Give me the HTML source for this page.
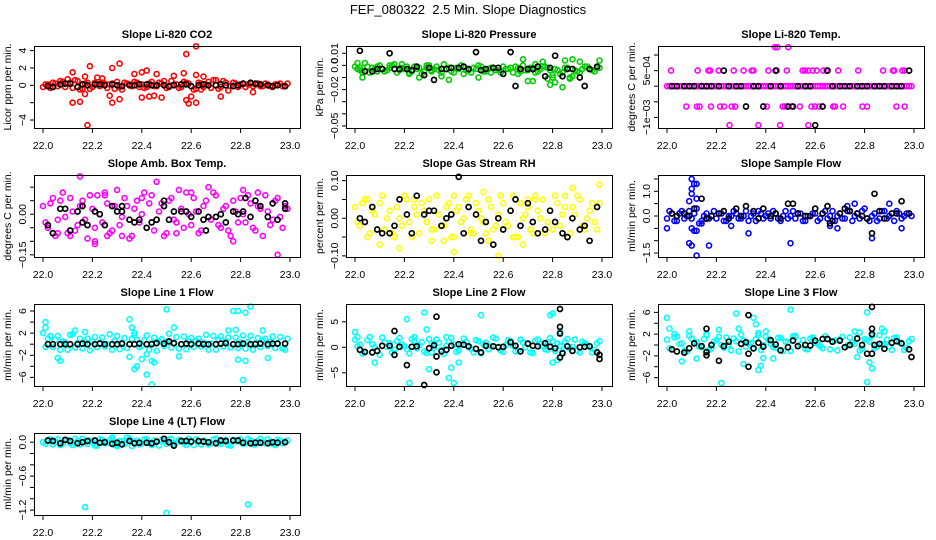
<!DOCTYPE html>
<html><head><meta charset="utf-8">
<style>
html,body{margin:0;padding:0;background:#fff;}
svg{display:block;font-family:"Liberation Sans",Arial,sans-serif;}
</style></head>
<body>
<svg id="chart" width="936" height="540" viewBox="0 0 936 540" xmlns="http://www.w3.org/2000/svg">
<rect x="0" y="0" width="936" height="540" fill="#fff"/>
<text x="468" y="14" font-size="13" text-anchor="middle" xml:space="preserve" style="white-space:pre">FEF_080322  2.5 Min. Slope Diagnostics</text>
</svg>
<script>
// shared x values (hours)
const xsA=[22.00,22.02,22.04,22.06,22.08,22.10,22.12,22.14,22.16,22.18,22.20,22.22,22.24,22.26,22.28,22.30,22.32,22.34,22.36,22.38,22.40,22.42,22.44,22.46,22.48,22.50,22.52,22.54,22.56,22.58,22.60,22.62,22.64,22.66,22.68,22.70,22.72,22.74,22.76,22.78,22.80,22.82,22.84,22.86,22.88,22.90,22.92,22.94,22.96,22.98];
const xsB=[22.01,22.03,22.05,22.07,22.09,22.11,22.13,22.15,22.17,22.19,22.21,22.23,22.25,22.27,22.29,22.31,22.33,22.35,22.37,22.39,22.41,22.43,22.45,22.47,22.49,22.51,22.53,22.55,22.57,22.59,22.61,22.63,22.65,22.67,22.69,22.71,22.73,22.75,22.77,22.79,22.81,22.83,22.85,22.87,22.89,22.91,22.93,22.95,22.97,22.99];
const xBlack=[22.02,22.04,22.07,22.09,22.11,22.14,22.16,22.18,22.21,22.23,22.25,22.28,22.30,22.32,22.35,22.37,22.39,22.42,22.44,22.46,22.49,22.51,22.53,22.56,22.58,22.60,22.63,22.65,22.67,22.70,22.72,22.74,22.77,22.79,22.81,22.84,22.86,22.88,22.91,22.93,22.95,22.98];
const xTicks=[22.0,22.2,22.4,22.6,22.8,23.0];
const xTickLabels=["22.0","22.2","22.4","22.6","22.8","23.0"];

// Panel 1: CO2
const co2A=[-.2,.1,.3,-.1,.4,.2,-.3,.5,-.4,.3,-.2,.1,.3,-.3,.2,.4,-.5,.2,-.1,.3,.1,-.2,.4,-.1,.2,-.3,.5,.1,-.2,.3,-.1,-.4,.2,.1,-.3,.6,-.2,.3,-.1,.2,.1,-.2,.2,.1,-.1,.2,-.1,.1,.2,-.1];
const co2B=[.1,-.3,.2,.5,-.2,.3,.6,-.5,.2,-.4,.3,-.1,.2,.1,-.4,-.2,.3,.1,.4,-.2,-.3,.2,-.1,.3,.5,-.2,.1,-.3,.4,.2,-.5,.3,-.2,.4,.6,-.4,.5,-.6,.3,-.2,.2,.1,-.1,.2,-.1,.1,-.2,.1,-.1,.2];
const co2OutX=[22.12,22.12,22.15,22.18,22.19,22.17,22.17,22.24,22.27,22.28,22.28,22.31,22.31,22.37,22.40,22.42,22.40,22.43,22.45,22.46,22.48,22.53,22.57,22.58,22.58,22.59,22.60,22.62,22.62,22.62,22.65,22.72,22.85,22.64,22.22,22.10];
const co2OutY=[1.5,-2,-1.9,-4.6,2.2,1,-1,.8,-1.2,2,-2,2.5,-1.6,1.3,1.5,1.7,-1.4,-1.3,-1.2,1.3,-1.4,1.1,1.4,3.6,-1.7,-2.1,-1.3,-2,4.5,1.2,1,-1.3,-.8,-.5,.9,.7];
const co2Black=[-0.1,-0.2,0.1,0.2,0.2,-0.2,0.1,0,0.1,0.1,0,0.1,0,-0.1,0,0,0.1,0.1,0,0,0,-0.1,0,0.1,0.1,-0.1,0,0.1,0,0,0.1,0,-0.1,0,0.2,0.3,0.2,0.1,0,-0.1,0,-0.1];
const co2Ticks=[-4,-2,0,2,4];
const co2TickLabels=["-4","","0","2","4"];

// Panel 2: Pressure (units of 0.001 kPa)
const presA=[-1,-4,2,-6,-3,0,-5,-2,1,-4,-3,-6,-1,-2,-5,0,-3,-4,1,-2,-6,-3,-1,-4,-2,0,-5,-3,-2,-4,-1,-3,-6,-2,0,-4,-3,-5,-1,-2,-8,-4,-6,-2,-9,-5,-3,-1,-4,-2];
const presB=[-3,-6,-1,-2,-5,-3,-4,0,-6,-2,-1,-5,-3,-7,-2,-4,-1,-6,-3,-5,-2,0,-4,-6,-3,-1,-5,-2,-4,-6,-3,-2,-1,-5,-4,-2,-6,-3,-1,-4,-3,-7,-2,-10,-4,-6,-1,-3,-5,-2];
const presOutX=[22.01,22.03,22.09,22.19,22.22,22.26,22.29,22.31,22.33,22.35,22.38,22.44,22.50,22.55,22.66,22.67,22.68,22.72,22.73,22.76,22.78,22.79,22.80,22.81,22.84,22.85,22.87,22.88,22.91,22.99,22.99,22.02,22.14,22.70];
const presOutY=[2,-10,-1,1,-7,-10,0,-5,-53,-9,-12,-7,-10,-6,-7,-52,5,-13,1,3,-11,-16,-10,-14,-18,4,-11,5,3,4,-53,-2,0,-13];
const presBlack=[12,-5,-5,-3,-3,10,-3,-3,-3,-4,-1,-8,-2,-12,-3,-3,-2,-2,-1,-3,11,-4,-3,-2,-2,-7,11,-17,-3,-3,-3,-1,-9,-2,8,-9,-3,-3,-10,-17,-3,-1];
const presTicks=[10,0,-10,-20,-30,-40,-50];
const presTickLabels=["0.01","0.0","","-0.02","","","-0.05"];

// Panel 3: Li-820 Temp (units of 1e-4 C)
const tempA=[0,0,0,0,0,0,0,0,0,0,0,0,0,0,0,0,0,0,0,0,0,0,0,0,0,0,0,0,0,0,0,0,0,0,0,0,0,0,0,0,0,0,0,0,0,0,0,0,0,0];
const tempOutX=[22.016,22.124,22.168,22.175,22.209,22.27,22.31,22.343,22.35,22.41,22.444,22.485,22.549,22.559,22.572,22.59,22.606,22.633,22.646,22.693,22.774,22.875,22.915,22.92,22.953,22.962,22.078,22.121,22.132,22.178,22.215,22.231,22.262,22.276,22.404,22.468,22.477,22.504,22.538,22.585,22.599,22.616,22.673,22.68,22.713,22.791,22.81,22.929,22.962,22.437,22.447,22.491,22.253,22.37,22.458,22.572];
const tempOutY=[5,5,5,5,5,5,5,5,5,5,5,5,5,5,5,5,5,5,5,5,5,5,5,5,5,5,-6.5,-6.5,-6.5,-6.5,-6.5,-6.5,-6.5,-6.5,-6.5,-6.5,-6.5,-6.5,-6.5,-6.5,-6.5,-6.5,-6.5,-6.5,-6.5,-6.5,-6.5,-6.5,-6.5,12.5,12.5,12.5,-12.5,-12.5,-12.5,-12.5];
const tempBlack=[0,0,0,0,0,0,0,0,0,5,0,0,0,-6.5,0,0,-6.5,0,5,0,-6.5,-6.5,0,0,0,-12.5,-6.5,5,0,0,0,0,0,0,0,0,0,0,0,0,0,5];
const tempTicks=[10,5,0,-5,-10];
const tempTickLabels=["","5e-04","","","-1e-03"];

// Panel 4: Amb. Box Temp (units of 0.01 C)
const ambA=[3,-5,6,-2,8,-7,1,-4,5,-9,2,7,-3,4,-6,9,-1,3,-8,5,0,-5,7,-2,4,-7,6,-3,2,8,-4,1,-6,5,-2,7,-5,3,-8,1,6,-3,4,-6,2,7,-4,5,-1,3];
const ambB=[-3,4,-8,5,-1,6,-6,3,-2,7,-5,0,8,-7,3,-4,6,-9,2,-3,8,4,-6,1,-8,5,-2,9,-5,0,6,-7,3,-1,8,-4,2,-6,5,-3,0,7,-5,3,-8,1,-2,6,-5,2];
const ambOutX=[22.15,22.46,22.95,22.21,22.21,22.67,22.81,22.77,22.54,22.04,22.11,22.26,22.32,22.87,22.60,22.40,22.25,22.06];
const ambOutY=[14,12,-15,-10,-11,10,9,-10,-7,-7,-8,-8,-8,8,8,6,7,-7];
const ambBlack=[-4,-7,2,2,-6,1,-3,-4,1,0,-4,3,1,3,-2,-3,-2,-5,-3,-2,5,-2,1,1,1,-1,1,-2,-1,-1,0,-3,1,0,1,-1,5,3,-1,4,-2,2];
const ambBlackOutX=[22.16,22.32,22.49,22.66,22.98,22.82];
const ambBlackOutY=[3,1,3,-6,4,6];
const ambTicks=[10,5,0,-5,-10,-15];
const ambTickLabels=["","","0.00","","","-0.15"];

// Panel 5: Gas Stream RH (units of 0.01 %)
const rhA=[3,-2,5,-4,1,4,-3,2,-5,0,6,-1,3,-4,2,5,-3,1,-2,4,-5,3,0,6,-4,2,-1,5,-3,1,4,-2,6,-5,0,3,-4,2,5,-1,-3,4,1,-5,3,6,-2,0,4,-3];
const rhB=[-1,4,-5,2,-3,6,0,-4,3,-2,5,-5,1,4,-1,-3,6,-2,3,-5,2,-1,5,-3,4,0,-4,3,-2,6,-1,2,-5,4,1,-3,5,0,-4,2,6,-2,3,-4,1,5,-3,2,-1,4];
const rhOutX=[22.58,22.99,22.70,22.73,22.88,22.05,22.24,22.10,22.40,22.36,22.64,22.68,22.54,22.18,22.31,22.47,22.85,22.52,22.40];
const rhOutY=[-10,9,5,6,8,5,5,-7,-9,-6,-5,-7,-6,-8,-6,-4,6,7,6];
const rhBlack=[0,-1,3,-3,-4,-4,-2,5,1,-4,6,1,2,2,-2,0,1,11,-4,3,1,-6,-1,-7,0,-3,2,5,-2,4,-1,-4,-3,2,-1,-4,-5,0,-3,-2,-6,3];
const rhTicks=[10,5,0,-5,-10];
const rhTickLabels=["0.10","","0.00","","-0.10"];

// Panel 6: Sample Flow
const sfA=[-0.1,0.1,-0.2,0.2,0,-0.1,0.3,-0.2,0.1,0,-0.1,0.1,-0.2,0,0.1,-0.1,0.2,0,-0.2,0.1,0,-0.1,0.1,-0.2,0.2,0,-0.1,0.1,-0.2,0,0.1,-0.1,0.2,0,-0.2,0.1,-0.1,0.2,0,-0.1,0.3,-0.2,0.1,-0.1,0.2,0,-0.2,0.1,0,0.1];
const sfB=[0.2,-0.2,0.1,-0.1,0.2,0.1,-0.3,0,-0.1,0.2,0.1,-0.2,0,0.2,-0.1,0,-0.2,0.1,0.2,-0.1,0.1,0.2,-0.1,0,-0.1,0.2,0.1,-0.2,0,0.1,-0.2,0.1,-0.1,0.2,0,-0.1,0.2,-0.2,0.1,0.2,-0.1,0,-0.2,0.2,-0.1,0.1,0.2,-0.1,0.1,0];
const sfOutX=[22.10,22.11,22.10,22.12,22.10,22.09,22.12,22.10,22.11,22.09,22.10,22.12,22.12,22.17,22.00,22.14,22.33,22.50,22.66,22.69,22.76,22.83,22.90,22.95,22.73,22.26];
const sfOutY=[1.5,1.3,1.1,1.3,0.9,0.6,0.7,-0.5,-0.6,-1.1,-1.2,-0.6,-1.6,-1.2,-0.5,-0.3,-0.7,-1.1,-0.4,-0.5,0.5,-0.9,0.5,-0.5,0.4,-0.4];
const sfBlack=[0.1,0,0.1,0,0.3,0.7,-0.1,0,0.1,0.2,-0.1,0.3,0,0.4,0.2,-0.1,0.3,0,0.1,-0.1,0.5,0.5,0.1,0,0,0.3,0.1,0.4,-0.2,0.1,0.3,0.2,0.1,0,-0.1,0.9,0.2,-0.1,0.1,0.1,0.6,0.1];
const sfBlackOutX=[22.83,22.16,22.66];
const sfBlackOutY=[-0.7,-0.1,-0.3];
const sfTicks=[1.5,1,0.5,0,-0.5,-1,-1.5];
const sfTickLabels=["","1.0","","0.0","","","-1.5"];

// Panel 7: Line 1 Flow
const l1A=[2,1,-0.5,1.5,0.5,-1,1.8,0.2,-0.8,1,0.5,-0.5,1.2,0,-1,1.5,0.3,-0.7,1,0.8,-0.3,1.6,0.2,-1.2,0.9,0.4,-0.6,1.3,0,-0.9,1.1,0.6,-0.4,1.7,0.1,-1,1.4,0.5,-0.6,1.2,0.3,-0.8,1.5,0.2,-0.5,1,0.4,-0.7,1.3,-1];
const l1B=[-0.5,1.5,0.8,-1,0.3,1.7,-0.6,1,0.4,-1.1,1.3,0.2,-0.4,1.8,0.6,-0.9,1.1,0,1.6,-0.5,0.7,-1,1.2,0.5,-0.3,1.9,0.1,-0.8,1.4,0.6,-0.5,1,0.3,-1,1.5,0.8,-0.4,1.2,0,-0.7,1.6,0.4,-1,1.1,0.7,-0.3,1.4,0.2,-0.8,1];
const l1OutX=[22.01,22.01,22.06,22.07,22.13,22.17,22.35,22.36,22.37,22.35,22.37,22.38,22.40,22.42,22.44,22.44,22.45,22.50,22.53,22.55,22.77,22.79,22.82,22.84,22.81,22.82,22.79,22.89,22.91,22.75,22.78,22.42];
const l1OutY=[4,3,-2.5,-3,2.5,2.2,4.5,3,2,-2.3,-4.5,-4,-2.7,-5.5,-7.3,-3,-3.3,6.3,3,-2.2,6,6,5.7,6.8,-6.5,-3,-2.8,2.5,-2.5,2.5,2.6,-1.8];
const l1Black=[0,0,0,0,0,0,0.1,0,0,0.1,0,0,0,0.1,0,0,0.1,0,0,0.2,0.1,0.5,0.2,0,0.1,0,0.1,0,0,0,0.1,0.2,0,0,0.1,0,0,0.1,0,0.1,0.1,0.1];
const l1Ticks=[6,4,2,0,-2,-4,-6];
const l1TickLabels=["6","","2","","-2","","-6"];

// Panel 8: Line 2 Flow
const l2A=[1.5,0.5,-1,2,0,-1.5,1,0.8,-0.5,1.8,0.2,-1.2,1.3,0.4,-0.8,1.6,-0.2,0.9,-1.3,1.1,0.5,-0.6,1.7,0,-1,1.2,0.6,-0.4,1.9,0.1,-0.9,1.4,0.3,-0.7,1,0.8,-1.1,1.5,0.2,-0.5,1.2,0.7,-0.9,1.6,0.1,-0.6,1.1,0.4,-1,0.8];
const l2B=[0.2,-1.2,1.4,0.6,-0.7,1.9,0.1,-1,1.2,0.5,-0.4,1.6,-0.2,1,-1.1,0.7,1.5,-0.5,0.3,1.8,-0.9,0.6,1.1,-0.3,1.4,-1.2,0.9,0.2,1.7,-0.6,0.4,1.2,-0.8,1.5,0,-1,1.3,0.6,-0.4,1.8,-0.7,0.3,1.1,-0.2,1.5,-1,0.8,0.1,-0.5,1.2];
const l2OutX=[22.00,22.01,22.21,22.22,22.28,22.29,22.30,22.31,22.38,22.40,22.39,22.42,22.51,22.79,22.80,22.78,22.80,22.83,22.82,22.08,22.37,22.24];
const l2OutY=[3,2,5.5,-7,6.8,3.5,-4.3,-1,-6,-7,-4,-3,6.3,6.3,6.6,1,-3,3,-2.5,-3,2,2];
const l2Black=[-0.5,-0.9,-1,-0.7,0.3,0.3,-1.5,0.1,-3.5,0.1,0.2,-7.4,-0.2,0.4,-0.8,-0.5,0.3,0.6,0.5,0.2,-0.3,-1,0.3,0.2,0,0.1,1,0.3,-0.8,0.7,0.3,0.2,0.8,0.1,-0.2,-1.2,0.2,-0.7,0,0.1,0.2,-1];
const l2BlackOutX=[22.16,22.33,22.33,22.33,22.83,22.83,22.83,22.83,22.99,22.99];
const l2BlackOutY=[3.2,6,-4.9,-1.8,7.5,4,2.7,-2,-2.3,-1.5];
const l2Ticks=[5,0,-5];
const l2TickLabels=["5","0","-5"];

// Panel 9: Line 3 Flow
const l3A=[1,-0.8,1.6,0.3,-1.2,1.2,0.5,-0.4,1.8,-0.6,0.9,0,1.4,-1,0.7,1.9,-0.3,0.4,1.1,-0.9,1.5,0.2,-0.5,1.3,0.6,-1.1,1.7,0.1,-0.7,1.2,0.4,-0.2,1.6,-0.8,0.8,1,-0.4,1.4,0.2,-1,1.1,0.6,-0.6,1.8,0,-0.3,1.3,0.5,-0.9,0.7];
const l3B=[-0.6,1.4,0.2,-1,1.7,0.4,-0.3,1.1,-0.9,0.6,1.5,-0.5,0.1,1.2,-1.2,0.8,0.3,-0.7,1.8,0,1,-0.4,1.3,-1.1,0.5,1.6,-0.2,0.9,-0.8,1.4,0.2,-0.6,1.1,0.7,-1,1.5,-0.1,0.4,1.2,-0.7,0.9,1.7,-0.3,0.2,1,-0.9,1.4,0.3,-0.5,1.1];
const l3OutX=[22.00,22.01,22.03,22.06,22.09,22.12,22.16,22.21,22.22,22.28,22.29,22.31,22.35,22.36,22.37,22.37,22.38,22.39,22.40,22.43,22.50,22.52,22.76,22.78,22.81,22.82,22.83,22.81,22.87,22.88,22.77];
const l3OutY=[5,3,2,-3,2.5,-2.5,2,2.8,-7,5.8,3,-3.5,5,3.8,2.2,-4.6,-3.8,-2.4,2.5,-2.5,6.5,1.5,2.5,2.3,-6.8,-3.2,-4.3,6,3,2.5,-2.2];
const l3Black=[-0.8,-1.2,-1.4,-0.6,0.3,-0.2,-1.3,0,-2.9,-0.2,0.6,-8,0.2,0.5,-0.6,0.4,-0.3,0.9,0.1,-1,-0.4,0.8,-0.2,0,-0.1,0.8,1.1,1.1,0.6,0.8,-0.4,0,1.2,0,-1.6,0,0.2,-0.7,0.4,0.7,0.3,-0.8];
const l3BlackOutX=[22.16,22.16,22.33,22.33,22.33,22.83,22.83,22.83,22.83,22.99];
const l3BlackOutY=[3,-1.9,5.5,-1.6,-4,7,3,2,-1.6,-2.2];
const l3Ticks=[6,4,2,0,-2,-4,-6];
const l3TickLabels=["6","","2","","-2","","-6"];

// Panel 10: Line 4 (LT) Flow
const l4A=[0,0.03,-0.04,0.05,-0.02,0.04,-0.05,0.02,0.06,-0.03,0.01,-0.06,0.04,-0.01,0.05,-0.04,0.02,0.08,-0.07,0.03,-0.02,0.05,-0.05,0.01,0.04,-0.03,0.06,-0.01,0.03,-0.05,0.02,0.05,-0.04,0.01,-0.02,0.06,-0.03,0.04,-0.06,0.02,0.05,-0.01,0.03,-0.04,0.06,-0.02,0.01,-0.05,0.03,0];
const l4B=[-0.03,0.05,0.01,-0.05,0.04,-0.02,0.06,-0.04,0.01,0.03,-0.06,0.05,-0.02,0.04,-0.05,0.02,-0.03,0.06,0.01,-0.04,0.05,-0.01,0.03,-0.06,0.02,0.05,-0.03,0.04,-0.02,0.06,-0.05,0.01,0.03,-0.04,0.05,-0.02,0.02,-0.05,0.04,0.01,-0.03,0.06,-0.04,0.02,-0.01,0.05,-0.03,0.04,-0.02,0.03];
const l4OutX=[22.17,22.50,22.83,22.30,22.28];
const l4OutY=[-1.15,-1.25,-1.1,-0.07,0.08];
const l4Black=[0.03,0.02,-0.02,0.04,0.02,-0.02,0,0.02,0.03,-0.01,0,-0.03,-0.01,-0.04,0.02,-0.02,-0.01,-0.01,-0.02,0.01,0.06,0,-0.06,0.02,0.02,0.01,0.02,0.01,0,-0.02,0.03,0.02,0.03,0.03,-0.01,-0.02,-0.01,-0.01,-0.02,0,-0.01,0];
const l4Ticks=[0,-0.2,-0.4,-0.6,-0.8,-1,-1.2];
const l4TickLabels=["0.0","","","-0.6","","","-1.2"];

const panels=[
 {key:"co2",title:"Slope Li-820 CO2",ylab:"Licor ppm per min.",color:"#ff0000",col:0,row:0,ylim:[-4.92,4.53],ticks:co2Ticks,labels:co2TickLabels,a:co2A,b:co2B,ox:co2OutX,oy:co2OutY,k:co2Black},
 {key:"pressure",title:"Slope Li-820 Pressure",ylab:"kPa per min.",color:"#00cc00",col:1,row:0,ylim:[-51.7,16],ticks:presTicks,labels:presTickLabels,a:presA,b:presB,ox:presOutX,oy:presOutY,k:presBlack},
 {key:"li820-temp",title:"Slope Li-820 Temp.",ylab:"degrees C per min.",color:"#ff00ff",col:2,row:0,ylim:[-13.4,12.9],ticks:tempTicks,labels:tempTickLabels,a:tempA,b:tempA,ox:tempOutX,oy:tempOutY,k:tempBlack},
 {key:"amb-box-temp",title:"Slope Amb. Box Temp.",ylab:"degrees C per min.",color:"#ff00ff",col:0,row:1,ylim:[-15.8,14.5],ticks:ambTicks,labels:ambTickLabels,a:ambA,b:ambB,ox:ambOutX,oy:ambOutY,k:ambBlack,kx:ambBlackOutX,ky:ambBlackOutY},
 {key:"gas-rh",title:"Slope Gas Stream RH",ylab:"percent per min.",color:"#ffff00",col:1,row:1,ylim:[-10.3,11.5],ticks:rhTicks,labels:rhTickLabels,a:rhA,b:rhB,ox:rhOutX,oy:rhOutY,k:rhBlack},
 {key:"sample-flow",title:"Slope Sample Flow",ylab:"ml/min per min.",color:"#0000ff",col:2,row:1,ylim:[-1.66,1.66],ticks:sfTicks,labels:sfTickLabels,a:sfA,b:sfB,ox:sfOutX,oy:sfOutY,k:sfBlack,kx:sfBlackOutX,ky:sfBlackOutY},
 {key:"line1-flow",title:"Slope Line 1 Flow",ylab:"ml/min per min.",color:"#00ffff",col:0,row:2,ylim:[-7.56,7.27],ticks:l1Ticks,labels:l1TickLabels,a:l1A,b:l1B,ox:l1OutX,oy:l1OutY,k:l1Black},
 {key:"line2-flow",title:"Slope Line 2 Flow",ylab:"ml/min per min.",color:"#00ffff",col:1,row:2,ylim:[-7.59,8.49],ticks:l2Ticks,labels:l2TickLabels,a:l2A,b:l2B,ox:l2OutX,oy:l2OutY,k:l2Black,kx:l2BlackOutX,ky:l2BlackOutY},
 {key:"line3-flow",title:"Slope Line 3 Flow",ylab:"ml/min per min.",color:"#00ffff",col:2,row:2,ylim:[-7.54,7.54],ticks:l3Ticks,labels:l3TickLabels,a:l3A,b:l3B,ox:l3OutX,oy:l3OutY,k:l3Black,kx:l3BlackOutX,ky:l3BlackOutY},
 {key:"line4-flow",title:"Slope Line 4 (LT) Flow",ylab:"ml/min per min.",color:"#00ffff",col:0,row:3,ylim:[-1.287,0.162],ticks:l4Ticks,labels:l4TickLabels,a:l4A,b:l4B,ox:l4OutX,oy:l4OutY,k:l4Black}
];

const NS="http://www.w3.org/2000/svg";
const svg=document.getElementById('chart');
const colLeft=[34,346,658], rowTop=[46,175,304,433], W=266, H=82;
function mk(tag,attrs,parent){const e=document.createElementNS(NS,tag);for(const k in attrs)e.setAttribute(k,attrs[k]);(parent||svg).appendChild(e);return e;}
function fmt(s){return s.replace(/-/g,"\u2212");}

panels.forEach(p=>{
  const L=colLeft[p.col], T=rowTop[p.row], R=L+W, B=T+H;
  const xScale=v=>L+9+(v-22)*(W-19);
  const yScale=v=>B-(v-p.ylim[0])/(p.ylim[1]-p.ylim[0])*H;
  const g=mk('g',{});
  
  
  const t=mk('text',{x:(L+R)/2,y:T-8,'font-size':11,'font-weight':'bold','text-anchor':'middle'},g);
  t.textContent=p.title;
  
  
  const yt=mk('text',{x:0,y:0,'font-size':10.5,'text-anchor':'middle',transform:`translate(${L-23},${(T+B)/2}) rotate(-90)`},g);
  yt.textContent=p.ylab;
  
  
  const pts=mk('g',{fill:'none'},g);
  
  
  function dot(x,y,c,sw){
    if(y<p.ylim[0]||y>p.ylim[1])return;
    const c1=mk('circle',{cx:xScale(x).toFixed(1),cy:yScale(y).toFixed(1),r:2.5,stroke:c,'stroke-width':sw},pts);
    
    
  }
  for(let i=0;i<Math.min(xsA.length,p.a.length);i++)dot(xsA[i],p.a[i],p.color,1.6);
  for(let i=0;i<Math.min(xsB.length,p.b.length);i++)dot(xsB[i],p.b[i],p.color,1.6);
  for(let i=0;i<Math.min(p.ox.length,p.oy.length);i++)dot(p.ox[i],p.oy[i],p.color,1.6);
  for(let i=0;i<Math.min(xBlack.length,p.k.length);i++)dot(xBlack[i],p.k[i],'#000',1.7);
  if(p.kx)for(let i=0;i<Math.min(p.kx.length,p.ky.length);i++)dot(p.kx[i],p.ky[i],'#000',1.7);
  const box=mk('rect',{x:L+0.5,y:T+0.5,width:W,height:H,fill:'none',stroke:'#000','stroke-width':1},g);
  
  
  const xa=mk('g',{},g);
  
  
  mk('line',{x1:xScale(xTicks[0]),x2:xScale(xTicks[xTicks.length-1]),y1:B+0.5,y2:B+0.5,stroke:'#000'},xa);
  xTicks.forEach((v,i)=>{
    const x=xScale(v);
    mk('line',{x1:x,x2:x,y1:B,y2:B+5,stroke:'#000'},xa);
    const lt=mk('text',{x:x,y:B+21,'font-size':10.5,'text-anchor':'middle'},xa);
    lt.textContent=xTickLabels[i];
    
    
  });
  const ya=mk('g',{},g);
  
  
  const ys=p.ticks.map(yScale);
  mk('line',{x1:L+0.5,x2:L+0.5,y1:Math.min(...ys),y2:Math.max(...ys),stroke:'#000'},ya);
  p.ticks.forEach((v,i)=>{
    const y=yScale(v);
    mk('line',{x1:L-4,x2:L,y1:y,y2:y,stroke:'#000'},ya);
    if(p.labels[i]){
      const lt=mk('text',{x:0,y:0,'font-size':10.5,'text-anchor':'middle',transform:`translate(${L-8},${y}) rotate(-90)`},ya);
      lt.textContent=fmt(p.labels[i]);
      
      
    }
  });
});
</script>
</body></html>
